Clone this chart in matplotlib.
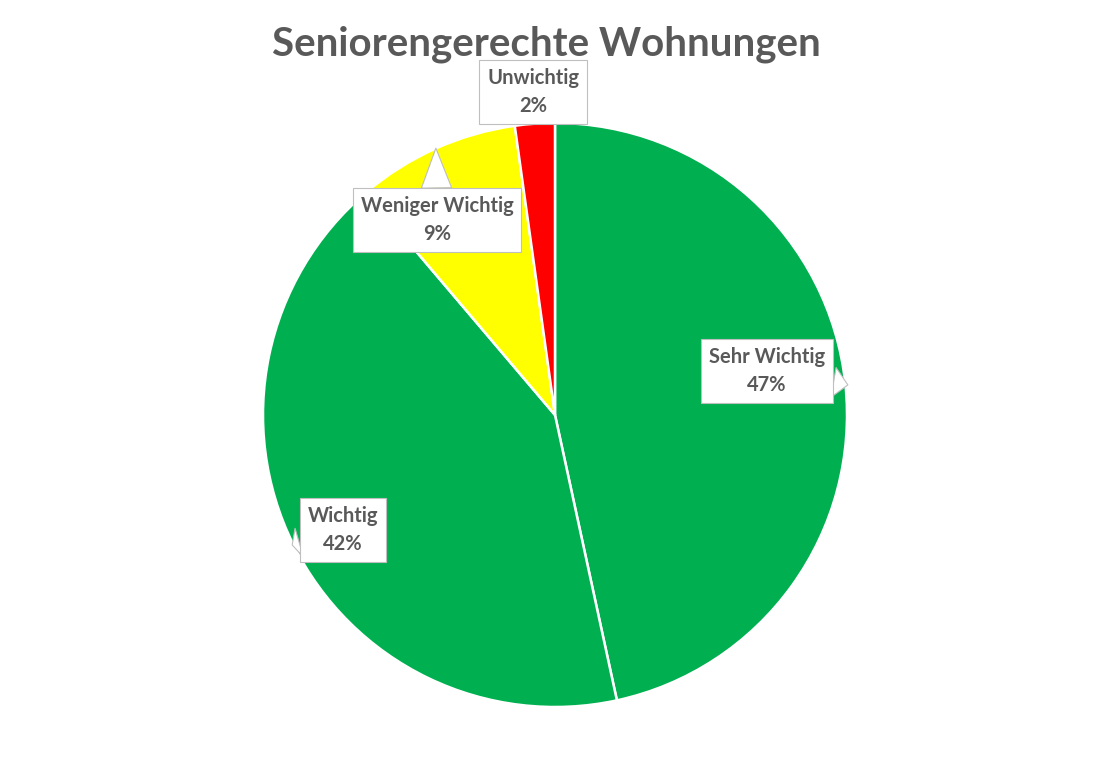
import matplotlib.pyplot as plt

# data
categories = ["Sehr Wichtig", "Wichtig", "Weniger Wichtig", "Unwichtig"]
shares = [46.6, 42.2, 9.0, 2.2]
colors = ["#00B050", "#00B050", "#FFFF00", "#FF0000"]

# label box centres and callout tips (pie radius = 1)
label_pos = [(0.726, 0.151), (-0.726, -0.394), (-0.404, 0.668), (-0.075, 1.106)]
tip_pos = [(1.003, 0.103), (-0.90, -0.445), (-0.408, 0.914), (-0.05, 0.997)]

grey = "#595959"

fig = plt.figure(figsize=(11.1, 7.68), dpi=100)
cx, cy = 555 / 1110, 1 - 415 / 768
rx, ry = 292 / 1110, 292 / 768
ax = fig.add_axes([cx - rx, cy - ry, 2 * rx, 2 * ry])

ax.pie(shares, colors=colors, startangle=90, counterclock=False, radius=1,
       wedgeprops=dict(edgecolor="white", linewidth=1.8))
ax.set_xlim(-1, 1)
ax.set_ylim(-1, 1)
ax.set_aspect("equal")
ax.axis("off")

for cat, val, pos, tip in zip(categories, shares, label_pos, tip_pos):
    ax.annotate(f"{cat}\n{val:.0f}%", xy=tip, xytext=pos, ha="center", va="center",
                fontsize=14.5, fontweight="bold", color=grey, family="Lato",
                linespacing=1.45, annotation_clip=False,
                bbox=dict(boxstyle="square,pad=0.4", fc="white", ec="#BFBFBF", lw=0.8),
                arrowprops=dict(arrowstyle="wedge,tail_width=1.5", fc="white",
                                ec="#BFBFBF", lw=0.8, shrinkA=0, shrinkB=0))

fig.text(0.492, 1 - 44 / 768, "Seniorengerechte Wohnungen", ha="center", va="center",
         fontsize=29, fontweight="bold", color=grey, family="Lato")

fig.savefig("out.png", dpi=100)
